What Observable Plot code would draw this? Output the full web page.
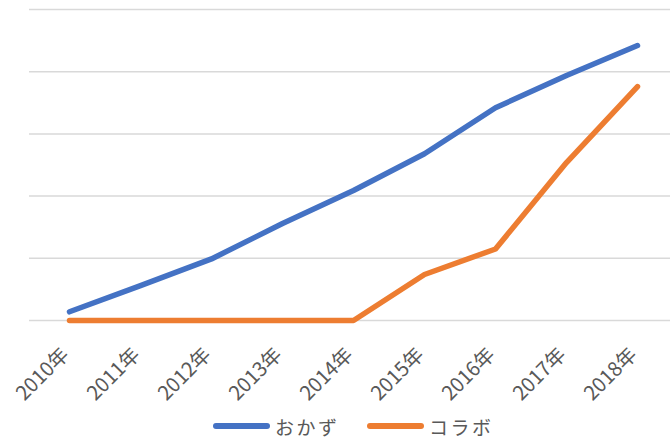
<!DOCTYPE html>
<html>
<head>
<meta charset="utf-8">
<script src="https://cdn.jsdelivr.net/npm/d3@7"></script>
<script src="https://cdn.jsdelivr.net/npm/@observablehq/plot@0.6"></script>
<style>
  html, body { margin: 0; padding: 0; background: #fff; overflow: hidden; }
  #chart svg { display: block; }
  #legend { position: relative; width: 670px; height: 28px; font-family: "Noto Sans CJK JP", sans-serif; font-size: 19px; line-height: 19px; color: #595959; }
  .item { position: absolute; top: 0; height: 28px; display: flex; align-items: center; }
  .sw { width: 57px; height: 6px; border-radius: 3px; margin-right: 5px; }
  .item span { letter-spacing: 2.5px; }
</style>
</head>
<body>
<div id="chart"></div>
<div id="legend"></div>
<script>
const years = ["2010年", "2011年", "2012年", "2013年", "2014年", "2015年", "2016年", "2017年", "2018年"];
const okazu = [1.4, 5.6, 9.9, 15.6, 20.9, 26.8, 34.2, 39.4, 44.2];
const collab = [0, 0, 0, 0, 0, 7.4, 11.5, 25.4, 37.6];
const seriesNames = ["おかず", "コラボ"];
const seriesColors = ["#4472C4", "#ED7D31"];
const gridTicks = [0, 10, 20, 30, 40, 50];

const data = years.flatMap((yr, i) => [
  {year: yr, value: okazu[i], series: seriesNames[0]},
  {year: yr, value: collab[i], series: seriesNames[1]}
]);

const chart = Plot.plot({
  width: 670,
  height: 412,
  marginLeft: 29,
  marginRight: -6,
  marginTop: 9,
  marginBottom: 92,
  style: {fontFamily: "'Noto Sans CJK JP', sans-serif", color: "#595959", background: "#fff"},
  x: {type: "point", domain: years, padding: 0.5},
  y: {domain: [0, 50], axis: null},
  color: {domain: seriesNames, range: seriesColors},
  marks: [
    Plot.gridY(gridTicks, {stroke: "#D9D9D9", strokeOpacity: 1, strokeWidth: 1.5}),
    Plot.axisX({tickSize: 0, tickRotate: -45, tickPadding: 31, dx: -4, fontSize: 20, fill: "#595959", label: null}),
    Plot.lineY(data, {x: "year", y: "value", z: "series", stroke: "series", strokeWidth: 5.5, strokeLinecap: "round", strokeLinejoin: "round"})
  ]
});
document.getElementById("chart").appendChild(chart);

const legend = document.getElementById("legend");
const lefts = [213, 367];
seriesNames.forEach((name, i) => {
  const item = document.createElement("div");
  item.className = "item";
  item.style.left = lefts[i] + "px";
  const sw = document.createElement("div");
  sw.className = "sw";
  sw.style.background = seriesColors[i];
  const t = document.createElement("span");
  t.textContent = name;
  item.appendChild(sw);
  item.appendChild(t);
  legend.appendChild(item);
});
</script>
</body>
</html>
